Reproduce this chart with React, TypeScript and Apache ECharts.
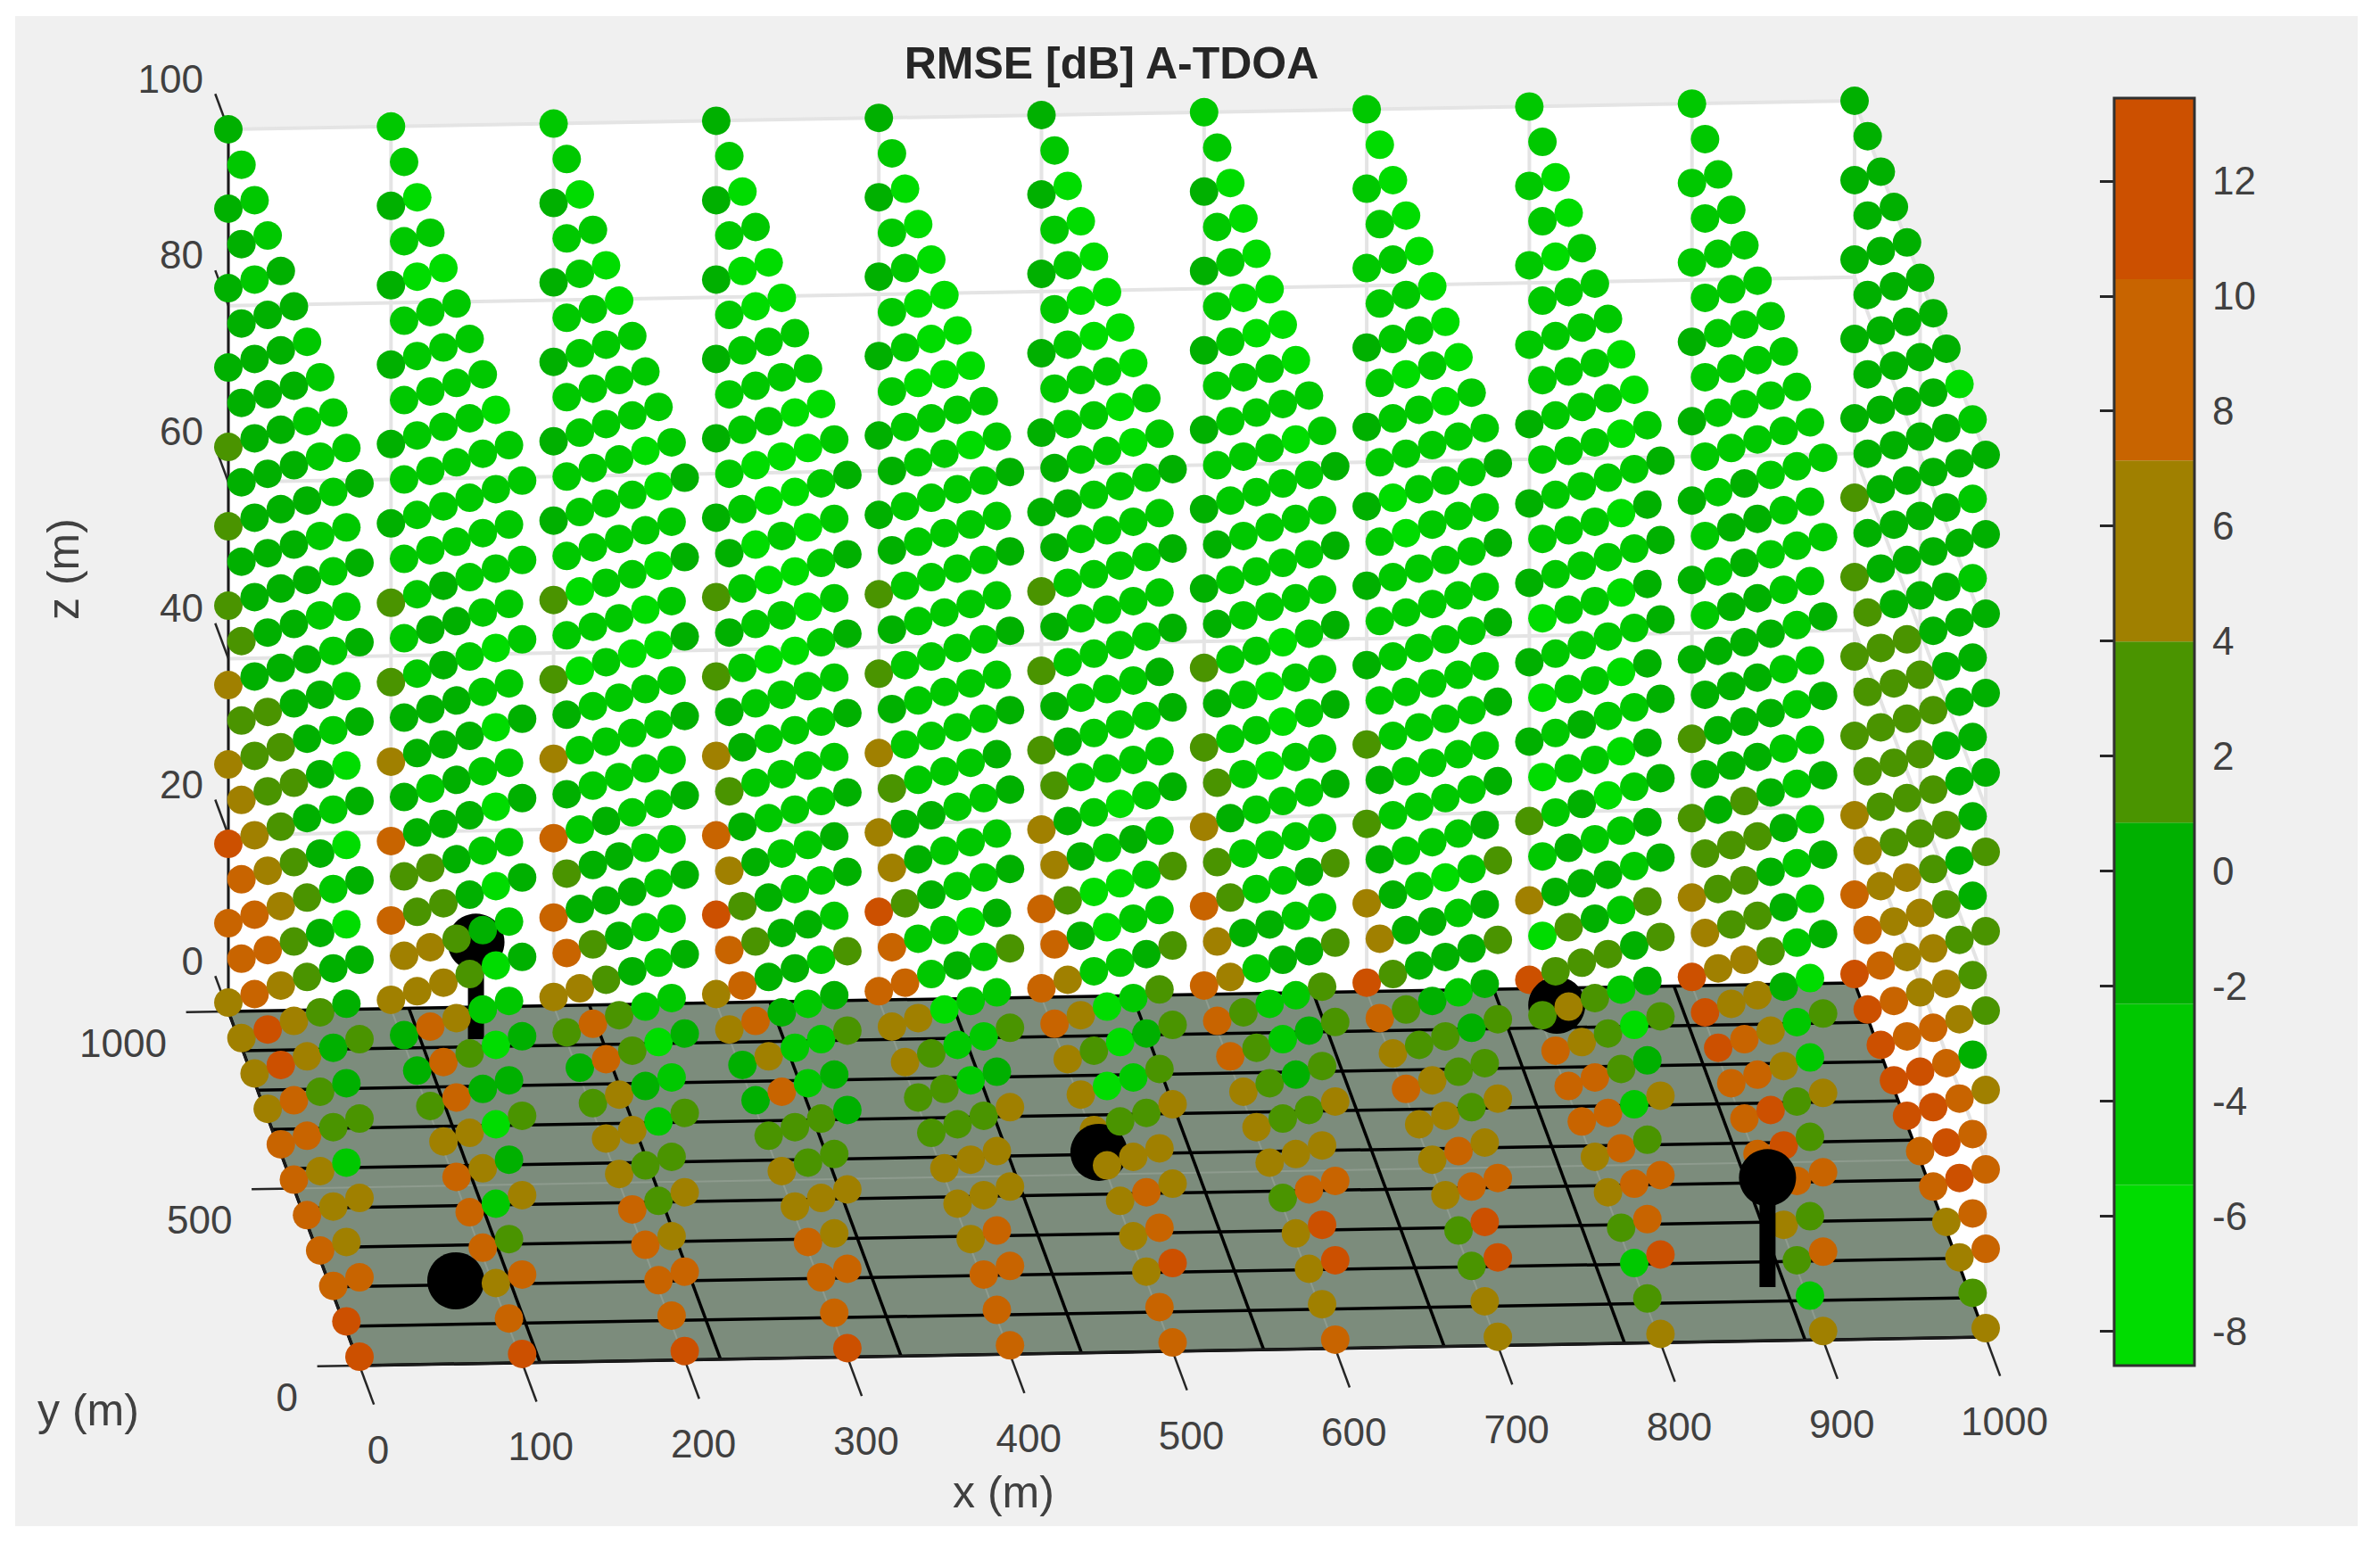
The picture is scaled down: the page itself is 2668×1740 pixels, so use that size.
import { useEffect, useRef } from "react";
import * as echarts from "echarts";

const FONT = "Liberation Sans";

// planes of constant x, one string per y (1000 -> 0), one letter per z level (top -> bottom)
const plane0 = ["ccccdddeegfe", "bcccccddeffe", "bbcccccdeffe", "bcccccddefge", "ccccccddeegf", "ccccccdddeff", "bbcccccddeff", "bbbbccccddef", "bbbbbbbccdef", "bbbbaaaccbeg", "cccccccddefg"];
const plane1 = ["bcccccddeffe", "bbbbbbbccdec", "aabbbbbccdec", "bbbbbccbdefd", "abbbccccdefe", "bbbbccccdeff", "bbbbbcccddef", "bbbbbbbcbcef", "abbaaaaaaabe", "bbbbbbbbccdf", "bbbcccccdefg"];
const plane2 = ["bcccccddeffe", "bbbbbbbccdfd", "abbbbaabbcec", "bbbbbbbbcdfd", "abbbbbbccdfe", "abbbbbbccdee", "bbbbabbccdef", "bababbbbbcdf", "baaabbbbabdf", "bbbbbbbbbdef", "ccccccccdefg"];
const plane3 = ["ccccccddefge", "bbbbbcccdefe", "aabbbbbccdfc", "babaabbbcdfc", "abbaaabbcced", "ababbbbbccfe", "baaaabbbcbde", "baaabbbcbbdf", "abbbbbbbbdef", "bbbbbcbccdef", "ccccccddcefg"];
const plane4 = ["ccccccddeegf", "bbbbccccdefe", "abbbbbbbcdfe", "aaabbbbbcbed", "aabbbbbccbdd", "aabbbbbbbade", "abbbbbbbcbde", "aabbbbbabbee", "bbbbbbbbbdef", "bbbbcbcbceff", "ccccccddeeff"];
const plane5 = ["ccccccdddeff", "bbbbccccdeff", "abbbcbbccdee", "aabbbbbbccee", "aabbbbbbabde", "abbbbbbbaaae", "aabbbbaabade", "aabbbbcbbbee", "bbbbbbbccdfe", "bbbcbbbddeff", "cccccdddeegf"];
const plane6 = ["bccccccddeff", "bbbbbcccddef", "abbbbbbbcdef", "aabbbbbbbcde", "aabbbbbbbbde", "abbbbaabcbde", "abbbaabbcbdd", "aabbbbbbbcee", "bbbbbbcccdfe", "bbbbbbbddege", "cccccdddefgf"];
const plane7 = ["bbbcccccddeg", "abbbbbbbccef", "abbbabbbbcde", "abababbbbcdf", "abbbbbbbbcde", "abbbbbbbccee", "aabbbbbacdee", "abbbbbbbbdfd", "bbbbbbbccdfd", "bbbbbcccdege", "cccccdddefge"];
const plane8 = ["bbbbcccccdeg", "bbbbbbaaabad", "aabbbbbbbcdf", "abbbbbbbcdef", "bbbbbbcccdef", "bbbbbbbbcdfe", "bbbbbbacddfe", "aaaaaabbbdfd", "abbbbbbcabfb", "bcccccdccdfd", "ccccccddefge"];
const plane9 = ["bbbcccccddeg", "bbbbbbbccdeg", "bbbbbbcccdeg", "bbbbccccddef", "bbbccccddeff", "bbbccccddeff", "bbbbccccdegf", "bbbbbbcccege", "bbbbbbbbbdfd", "bbbbbbbabddb", "bbcccccdeffe"];
const plane10 = ["cccccddddefg", "ccccccdddefg", "ccccccdddefg", "ccccccdddefg", "cccccdddeefg", "cccccdddeegf", "cccccdddefgf", "ccccccddefge", "accccccdefge", "bbbccccdcffd", "cccccdddeffe"];
const planes = [plane0, plane1, plane2, plane3, plane4, plane5, plane6, plane7, plane8, plane9, plane10];

const xValues = [0, 100, 200, 300, 400, 500, 600, 700, 800, 900, 1000];
const yValues = [1000, 900, 800, 700, 600, 500, 400, 300, 200, 100, 0];
const zLevels = [100, 91, 82, 73, 64, 55, 46, 37, 28, 19, 10, 1];
const rmseOfLetter: Record<string, number> = { a: -7, b: -4, c: -1, d: 2.5, e: 5.5, f: 8.5, g: 12 };

const binEdges = [-8.6, -5.46, -2.31, 0.84, 3.99, 7.14, 10.29, 13.44];
const binColors = ["#00dc00", "#00c800", "#00b000", "#4a9400", "#a08000", "#c86400", "#cc5000"];
const colorTicks = [-8, -6, -4, -2, 0, 2, 4, 6, 8, 10, 12];

const yTicks = [0, 500, 1000];
const zTicks = [0, 20, 40, 60, 80, 100];
const streets = [0, 111, 222, 333, 444, 556, 667, 778, 889, 1000];

// transmitters: position and mast height (m)
const stationX = [78, 145, 500, 813, 878];
const stationY = [233, 910, 562, 952, 151];
const stationH = [0, 11, 0, 0, 12.4];

// the view of the MATLAB axes is a plain oblique projection
const project = (x: number, y: number, z: number): number[] => [
  256 + 1.823 * x + 0.147 * (1000 - y),
  1134 - 0.032 * x + 0.397 * (1000 - y) - 9.89 * z,
];

const colorOf = (v: number) => {
  const i = binEdges.findIndex((e) => v < e);
  return binColors[Math.max(0, i - 1)];
};

const polygonSeries = (corners: number[][], fill: string) => ({
  type: "custom",
  silent: true,
  clip: false,
  data: [[0]],
  renderItem: (_: any, api: any) => ({
    type: "polygon",
    shape: { points: corners.map((c) => api.coord(project(c[0], c[1], c[2]))) },
    style: { fill },
  }),
});

const lineSeries = (segs: number[][], stroke: string, lineWidth: number) => ({
  type: "custom",
  silent: true,
  clip: false,
  data: segs.map((_, i) => [i]),
  renderItem: (p: any, api: any) => {
    const s = segs[p.dataIndex];
    const a = api.coord(project(s[0], s[1], s[2]));
    const b = api.coord(project(s[3], s[4], s[5]));
    return { type: "line", shape: { x1: a[0], y1: a[1], x2: b[0], y2: b[1] }, style: { stroke, lineWidth } };
  },
});

type Label = { text: string; at: number[]; dx: number; dy: number; align: string };

const labelSeries = (labels: Label[]) => ({
  type: "custom",
  silent: true,
  clip: false,
  data: labels.map((_, i) => [i]),
  renderItem: (p: any, api: any) => {
    const l = labels[p.dataIndex];
    const a = api.coord(project(l.at[0], l.at[1], l.at[2]));
    return {
      type: "text",
      x: a[0] + l.dx,
      y: a[1] + l.dy,
      style: { text: l.text, fontSize: 44, fontFamily: FONT, fill: "#404040", align: l.align, verticalAlign: "middle" },
    };
  },
});

const axisName = (text: string, x: number, y: number, rotation = 0) => ({
  type: "text",
  x,
  y,
  rotation,
  z: 20,
  style: { text, fontSize: 50, fontFamily: FONT, fill: "#404040", align: "center", verticalAlign: "middle" },
});

const App = () => {
  const chartRef = useRef<HTMLDivElement>(null);

  useEffect(() => {
    if (!chartRef.current) return;
    const myChart = echarts.init(chartRef.current, undefined, { renderer: "svg" });

    // dots and masts go in one list, painted back to front
    const items: number[][] = [];
    planes.forEach((plane, i) =>
      plane.forEach((col, j) =>
        zLevels.forEach((z, k) => items.push([xValues[i], yValues[j], z, rmseOfLetter[col[k]], 0]))
      )
    );
    stationX.forEach((x, i) => items.push([x, stationY[i], 0, stationH[i], 1]));
    items.sort((a, b) => b[1] - a[1] || a[0] - b[0] || a[2] - b[2]);

    const wallGrid: number[][] = [];
    zTicks.forEach((z) => {
      wallGrid.push([0, 1000, z, 1000, 1000, z]);
      wallGrid.push([1000, 1000, z, 1000, 0, z]);
    });
    xValues.forEach((x) => wallGrid.push([x, 1000, 0, x, 1000, 100]));
    yTicks.forEach((y) => wallGrid.push([1000, y, 0, 1000, y, 100]));

    const floorGrid: number[][] = [];
    xValues.forEach((x) => floorGrid.push([x, 1000, 0, x, 0, 0]));
    yTicks.forEach((y) => floorGrid.push([0, y, 0, 1000, y, 0]));

    const streetLines: number[][] = [];
    streets.forEach((s) => {
      streetLines.push([s, 1000, 0, s, 0, 0]);
      streetLines.push([0, s, 0, 1000, s, 0]);
    });

    const axisLines = [
      [0, 1000, 0, 0, 1000, 100],
      [0, 1000, 0, 0, 0, 0],
      [0, 0, 0, 1000, 0, 0],
    ];
    const ticks: number[][] = [];
    xValues.forEach((x) => ticks.push([x, 0, 0, x, -110, 0]));
    yTicks.forEach((y) => ticks.push([0, y, 0, -26, y, 0]));
    zTicks.forEach((z) => ticks.push([0, 1000, z, 0, 1100, z]));

    const labels: Label[] = [
      ...xValues.map((x) => ({ text: String(x), at: [x, 0, 0], dx: 21, dy: 94, align: "center" })),
      ...yTicks.map((y) => ({ text: String(y), at: [0, y, 0], dx: -69, dy: 35, align: "right" })),
      ...zTicks.map((z) => ({ text: String(z), at: [0, 1000, z], dx: -28, dy: -57, align: "right" })),
    ];

    const option: any = {
      animation: false,
      title: {
        text: "RMSE [dB] A-TDOA",
        left: 1241,
        top: 66,
        textAlign: "center",
        textVerticalAlign: "middle",
        textStyle: { fontSize: 50, fontWeight: "bold", fontFamily: FONT, color: "#262626" },
      },
      graphic: [
        { type: "rect", z: -1, shape: { x: 17, y: 18, width: 2626, height: 1693 }, style: { fill: "#f0f0f0" } },
        axisName("x (m)", 1125, 1673),
        axisName("y (m)", 99, 1581),
        axisName("z (m)", 71, 638, Math.PI / 2),
      ],
      grid: [
        { left: 0, top: 0, width: 2668, height: 1740 },
        { left: 2370, top: 110, width: 90, height: 1421 },
      ],
      xAxis: [
        { type: "value", min: 0, max: 2668, show: false, gridIndex: 0 },
        { type: "value", min: 0, max: 1, show: false, gridIndex: 1 },
      ],
      yAxis: [
        { type: "value", min: 0, max: 1740, inverse: true, show: false, gridIndex: 0 },
        {
          type: "value",
          gridIndex: 1,
          position: "right",
          min: binEdges[0],
          max: binEdges[binEdges.length - 1],
          splitLine: { show: false },
          axisLine: { show: false },
          axisTick: { inside: true, length: 16, customValues: colorTicks, lineStyle: { color: "#262626", width: 3 } },
          axisLabel: { customValues: colorTicks, margin: 20, fontSize: 44, fontFamily: FONT, color: "#404040" },
        },
      ],
      series: [
        polygonSeries(
          [[0, 1000, 100], [1000, 1000, 100], [1000, 0, 100], [1000, 0, 0], [0, 0, 0], [0, 1000, 0]],
          "#ffffff"
        ),
        lineSeries(wallGrid, "#e4e4e4", 4),
        polygonSeries([[0, 1000, 0], [1000, 1000, 0], [1000, 0, 0], [0, 0, 0]], "#7c8c7c"),
        lineSeries(floorGrid, "#8e9b8e", 2),
        lineSeries(streetLines, "#000000", 3.5),
        lineSeries(axisLines, "#1a1a1a", 3),
        lineSeries(ticks, "#262626", 2.5),
        labelSeries(labels),
        {
          type: "custom",
          silent: true,
          clip: false,
          data: items,
          progressive: 0,
          dimensions: ["x", "y", "z", "v", "kind"],
          encode: { x: 0, y: 1 },
          renderItem: (_: any, api: any) => {
            const [x, y, z, v, kind] = [0, 1, 2, 3, 4].map((d) => api.value(d));
            if (kind === 0) {
              const c = api.coord(project(x, y, z));
              return { type: "circle", shape: { cx: c[0], cy: c[1], r: 16 }, style: { fill: colorOf(v) } };
            }
            const base = api.coord(project(x, y, 0));
            const top = api.coord(project(x, y, v));
            return {
              type: "group",
              children: [
                { type: "line", shape: { x1: base[0], y1: base[1], x2: top[0], y2: top[1] }, style: { stroke: "#000000", lineWidth: 18 } },
                { type: "circle", shape: { cx: top[0], cy: top[1], r: 32 }, style: { fill: "#000000" } },
              ],
            };
          },
        },
        {
          type: "custom",
          xAxisIndex: 1,
          yAxisIndex: 1,
          silent: true,
          data: binColors.map((_, i) => [binEdges[i], binEdges[i + 1]]),
          renderItem: (p: any, api: any) => {
            const a = api.coord([0, api.value(1)]);
            const b = api.coord([1, api.value(0)]);
            return {
              type: "rect",
              shape: { x: a[0], y: a[1], width: b[0] - a[0], height: b[1] - a[1] },
              style: { fill: binColors[p.dataIndex] },
            };
          },
        },
        {
          type: "custom",
          xAxisIndex: 1,
          yAxisIndex: 1,
          silent: true,
          z: 5,
          clip: false,
          data: [[binEdges[0], binEdges[binEdges.length - 1]]],
          renderItem: (_: any, api: any) => {
            const a = api.coord([0, api.value(1)]);
            const b = api.coord([1, api.value(0)]);
            return {
              type: "rect",
              shape: { x: a[0], y: a[1], width: b[0] - a[0], height: b[1] - a[1] },
              style: { fill: "none", stroke: "#303030", lineWidth: 3 },
            };
          },
        },
      ],
    };

    myChart.setOption(option);

    return () => {
      myChart.dispose();
    };
  }, []);

  return <div ref={chartRef} style={{ position: "fixed", left: 0, top: 0, width: 2668, height: 1740, background: "#ffffff" }} />;
};

export default App;
